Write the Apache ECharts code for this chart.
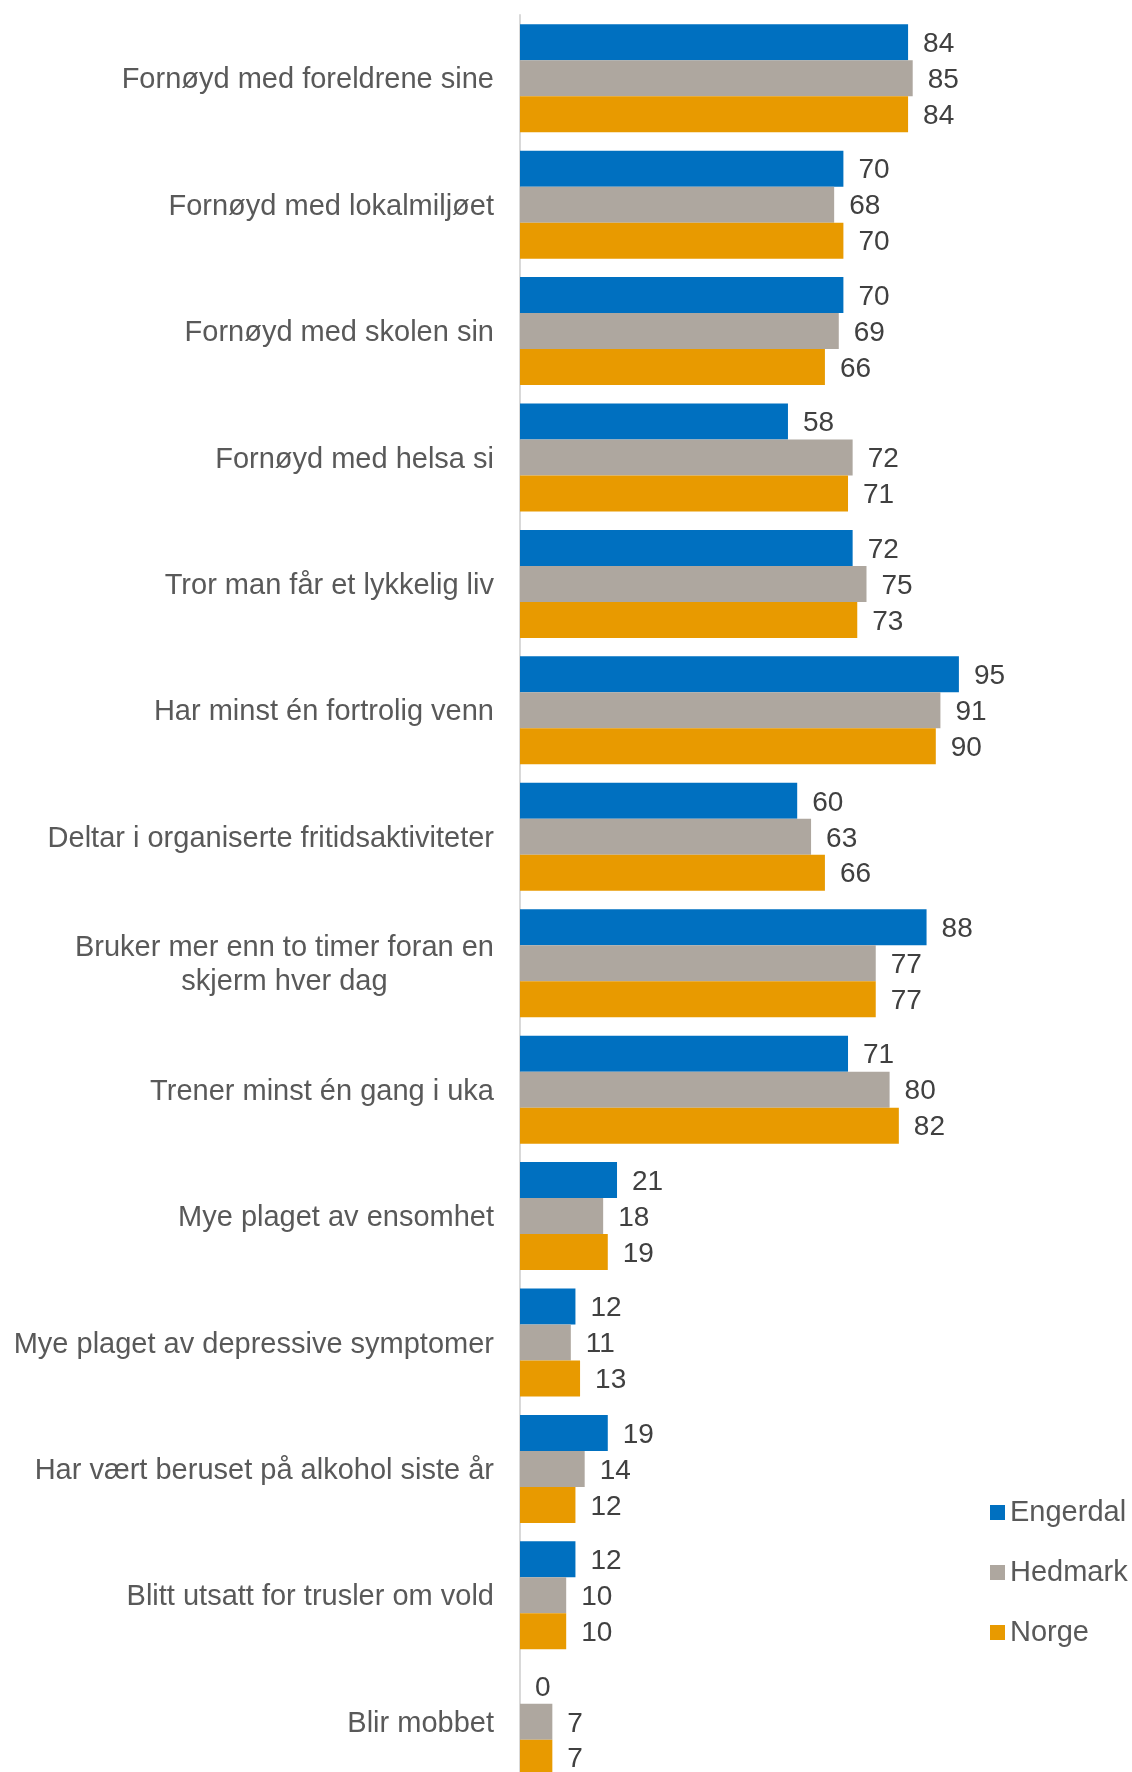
<!DOCTYPE html>
<html>
<head>
<meta charset="utf-8">
<script src="https://cdn.jsdelivr.net/npm/echarts@6/dist/echarts.min.js"></script>
<style>
  html, body { margin: 0; padding: 0; background: #fff; }
  #chart { width: 1132px; height: 1772px; }
</style>
</head>
<body>
<div id="chart"></div>
<script>
const categories = [
  "Fornøyd med foreldrene sine",
  "Fornøyd med lokalmiljøet",
  "Fornøyd med skolen sin",
  "Fornøyd med helsa si",
  "Tror man får et lykkelig liv",
  "Har minst én fortrolig venn",
  "Deltar i organiserte fritidsaktiviteter",
  "Bruker mer enn to timer foran en\nskjerm hver dag",
  "Trener minst én gang i uka",
  "Mye plaget av ensomhet",
  "Mye plaget av depressive symptomer",
  "Har vært beruset på alkohol siste år",
  "Blitt utsatt for trusler om vold",
  "Blir mobbet",
];
const engerdal = [84, 70, 70, 58, 72, 95, 60, 88, 71, 21, 12, 19, 12, 0];
const hedmark = [85, 68, 69, 72, 75, 91, 63, 77, 80, 18, 11, 14, 10, 7];
const norge = [84, 70, 66, 71, 73, 90, 66, 77, 82, 19, 13, 12, 10, 7];

const chart = echarts.init(document.getElementById("chart"));
const font = "Liberation Sans, Arial, sans-serif";

const labelStyle = {
  show: true,
  position: "right",
  distance: 15,
  offset: [0, 2],
  fontSize: 28,
  color: "#404040",
  fontFamily: font,
};

const makeSeries = (name, data, color) => ({
  name,
  type: "bar",
  data,
  barGap: "0%",
  barCategoryGap: "14.6%",
  itemStyle: { color },
  label: labelStyle,
});

chart.setOption({
  animation: false,
  // the last category runs past the bottom edge, like in the original
  grid: { left: 520, right: 150, top: 15, height: 1770, outerBoundsMode: "none", containLabel: false },
  legend: {
    orient: "vertical",
    left: 985,
    top: 1493,
    itemWidth: 15,
    itemHeight: 15,
    itemGap: 31,
    icon: "rect",
    textStyle: { fontSize: 29, color: "#595959", fontFamily: font },
    data: ["Engerdal", "Hedmark", "Norge"],
  },
  xAxis: {
    type: "value",
    min: 0,
    max: 100,
    show: false,
  },
  yAxis: {
    type: "category",
    inverse: true,
    data: categories,
    axisLine: { show: true, lineStyle: { color: "#D9D9D9", width: 2 } },
    axisTick: { show: false },
    axisLabel: {
      margin: 26,
      fontSize: 29,
      color: "#595959",
      fontFamily: font,
      lineHeight: 34,
      padding: [4, 0, 0, 0],
      formatter: (v) => v.split("\n").map((l) => "{c|" + l + "}").join("\n"),
      rich: {
        c: { align: "center", fontSize: 29, color: "#595959", fontFamily: font, lineHeight: 34 },
      },
    },
  },
  series: [
    makeSeries("Engerdal", engerdal, "#0070C0"),
    makeSeries("Hedmark", hedmark, "#AEA79F"),
    makeSeries("Norge", norge, "#E89A00"),
  ],
});
</script>
</body>
</html>
